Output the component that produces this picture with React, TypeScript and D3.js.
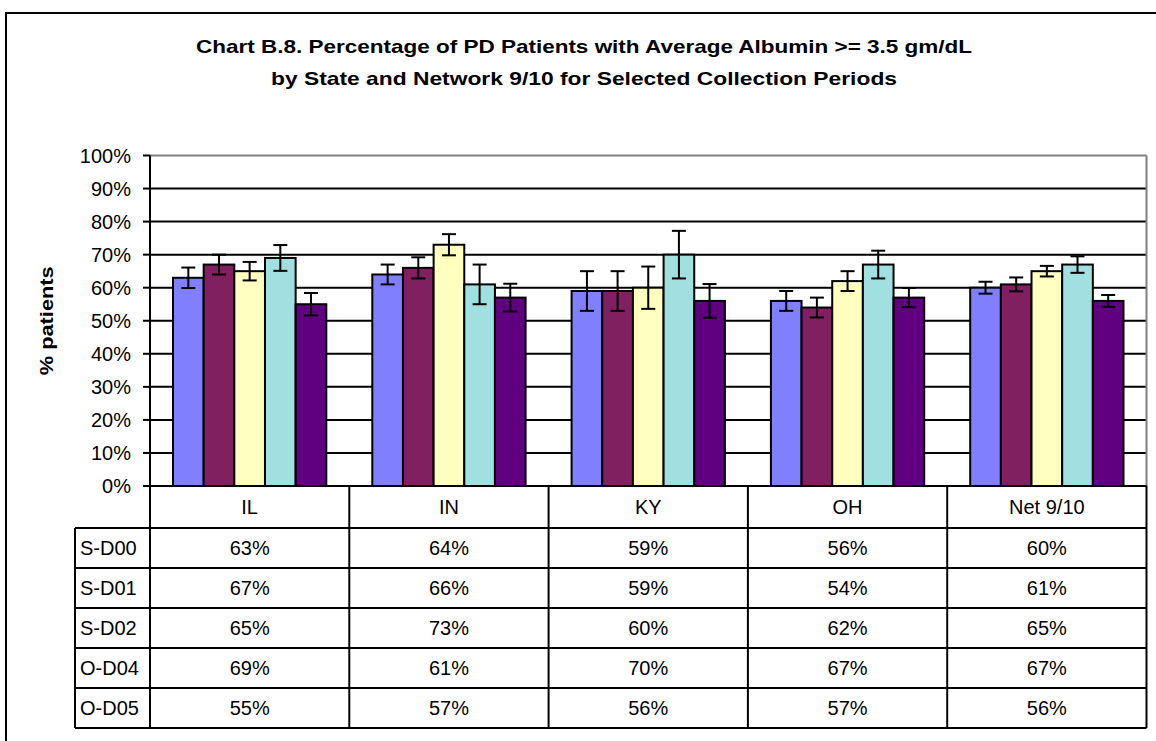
import React from "react";
import * as d3 from "d3";

const categories = ["IL", "IN", "KY", "OH", "Net 9/10"];
const seriesNames = ["S-D00", "S-D01", "S-D02", "O-D04", "O-D05"];
const seriesColors = ["#8080FF", "#802060", "#FFFFC0", "#A0E0E0", "#600080"];
// values per series, per category (%)
const sD00 = [63, 64, 59, 56, 60];
const sD01 = [67, 66, 59, 54, 61];
const sD02 = [65, 73, 60, 62, 65];
const oD04 = [69, 61, 70, 67, 67];
const oD05 = [55, 57, 56, 57, 56];
// error bar half-widths (% points)
const errD00 = [3.1, 3.0, 6.0, 3.0, 1.8];
const errD01 = [3.0, 3.2, 6.0, 3.0, 2.1];
const errD02 = [2.8, 3.2, 6.4, 3.0, 1.6];
const errD04 = [3.9, 6.0, 7.2, 4.2, 2.5];
const errD05 = [3.4, 4.2, 5.1, 2.9, 1.8];
const yTicks = [0, 10, 20, 30, 40, 50, 60, 70, 80, 90, 100];
const titleLines = [
  "Chart B.8. Percentage of PD Patients with Average Albumin >= 3.5 gm/dL",
  "by State and Network 9/10 for Selected Collection Periods",
];
const yLabel = "% patients";

const values = [sD00, sD01, sD02, oD04, oD05];
const errors = [errD00, errD01, errD02, errD04, errD05];

export default function App() {
  const W = 1156, H = 741;
  const plotL = 150, plotR = 1146.5, plotT = 155.5, plotB = 486;
  const font = "'Liberation Sans', Arial, sans-serif";
  const fs = 20;
  const y = d3.scaleLinear().domain([0, 100]).range([plotB, plotT]);
  const x0 = d3.scaleBand().domain(categories).range([plotL, plotR]).padding(0);
  const x1 = d3
    .scaleBand()
    .domain(seriesNames)
    .range([0, x0.bandwidth()])
    .paddingInner(0)
    .paddingOuter(0.75);
  const rowTop = 528, rowH = 40, tableL = 75;
  const tableB = rowTop + rowH * seriesNames.length;
  const titleWidths = [776, 626];

  return (
    <svg width={W} height={H} style={{ position: "absolute", left: 0, top: 0 }} fontFamily={font}>
      <rect x={0} y={0} width={W} height={H} fill="#fff" />
      <rect x={6} y={13} width={W + 20} height={H + 20} fill="none" stroke="#000" strokeWidth={2} />
      {titleLines.map((t, i) => (
        <text
          key={i}
          x={584}
          y={53 + i * 32}
          textAnchor="middle"
          fontSize={19}
          fontWeight="bold"
          textLength={titleWidths[i]}
          lengthAdjust="spacingAndGlyphs"
        >
          {t}
        </text>
      ))}
      {/* gridlines */}
      {yTicks.slice(1, -1).map((t) => (
        <line key={t} x1={plotL} x2={plotR} y1={y(t)} y2={y(t)} stroke="#000" strokeWidth={2} />
      ))}
      {/* plot area border top/right gray */}
      <line x1={plotL} x2={plotR} y1={plotT} y2={plotT} stroke="#808080" strokeWidth={2} />
      <line x1={plotR} x2={plotR} y1={plotT} y2={plotB} stroke="#808080" strokeWidth={2} />
      {/* bars */}
      {categories.map((c, ci) => (
        <g key={c} transform={`translate(${x0(c)},0)`}>
          {seriesNames.map((s, si) => {
            const v = values[si][ci];
            return (
              <rect
                key={s}
                x={x1(s)}
                y={y(v)}
                width={x1.bandwidth()}
                height={y(0) - y(v)}
                fill={seriesColors[si]}
                stroke="#000"
                strokeWidth={2}
              />
            );
          })}
          {seriesNames.map((s, si) => {
            const v = values[si][ci];
            const e = errors[si][ci];
            const cx = (x1(s) as number) + x1.bandwidth() / 2;
            return (
              <g key={s} stroke="#000" strokeWidth={2}>
                <line x1={cx} x2={cx} y1={y(v + e)} y2={y(v - e)} />
                <line x1={cx - 7} x2={cx + 7} y1={y(v + e)} y2={y(v + e)} />
                <line x1={cx - 7} x2={cx + 7} y1={y(v - e)} y2={y(v - e)} />
              </g>
            );
          })}
        </g>
      ))}
      {/* y axis */}
      <line x1={plotL} x2={plotL} y1={plotT} y2={tableB} stroke="#000" strokeWidth={2} />
      <line x1={plotL} x2={plotR} y1={plotB} y2={plotB} stroke="#000" strokeWidth={2} />
      {yTicks.map((t) => (
        <g key={t}>
          <line x1={plotL - 7} x2={plotL} y1={y(t)} y2={y(t)} stroke="#000" strokeWidth={2} />
          <text x={131} y={y(t)} dy="0.36em" textAnchor="end" fontSize={fs}>
            {t}%
          </text>
        </g>
      ))}
      <text
        transform={`translate(53,${(plotT + plotB) / 2}) rotate(-90)`}
        textAnchor="middle"
        fontSize={18}
        fontWeight="bold"
        textLength={109}
        lengthAdjust="spacingAndGlyphs"
      >
        {yLabel}
      </text>
      {/* table */}
      {categories.map((c) => (
        <g key={c}>
          <line
            x1={(x0(c) as number) + x0.bandwidth()}
            x2={(x0(c) as number) + x0.bandwidth()}
            y1={plotB}
            y2={tableB}
            stroke="#000"
            strokeWidth={2}
          />
          <text
            x={(x0(c) as number) + x0.bandwidth() / 2}
            y={(plotB + rowTop) / 2}
            dy="0.36em"
            textAnchor="middle"
            fontSize={fs}
          >
            {c}
          </text>
        </g>
      ))}
      <line x1={tableL} x2={tableL} y1={rowTop} y2={tableB} stroke="#000" strokeWidth={2} />
      {d3.range(seriesNames.length + 1).map((i) => (
        <line
          key={i}
          x1={tableL}
          x2={plotR}
          y1={rowTop + i * rowH}
          y2={rowTop + i * rowH}
          stroke="#000"
          strokeWidth={2}
        />
      ))}
      {seriesNames.map((s, si) => (
        <g key={s}>
          <text x={tableL + 5} y={rowTop + si * rowH + rowH / 2} dy="0.36em" fontSize={fs}>
            {s}
          </text>
          {categories.map((c, ci) => (
            <text
              key={c}
              x={(x0(c) as number) + x0.bandwidth() / 2}
              y={rowTop + si * rowH + rowH / 2}
              dy="0.36em"
              textAnchor="middle"
              fontSize={fs}
            >
              {values[si][ci]}%
            </text>
          ))}
        </g>
      ))}
    </svg>
  );
}
